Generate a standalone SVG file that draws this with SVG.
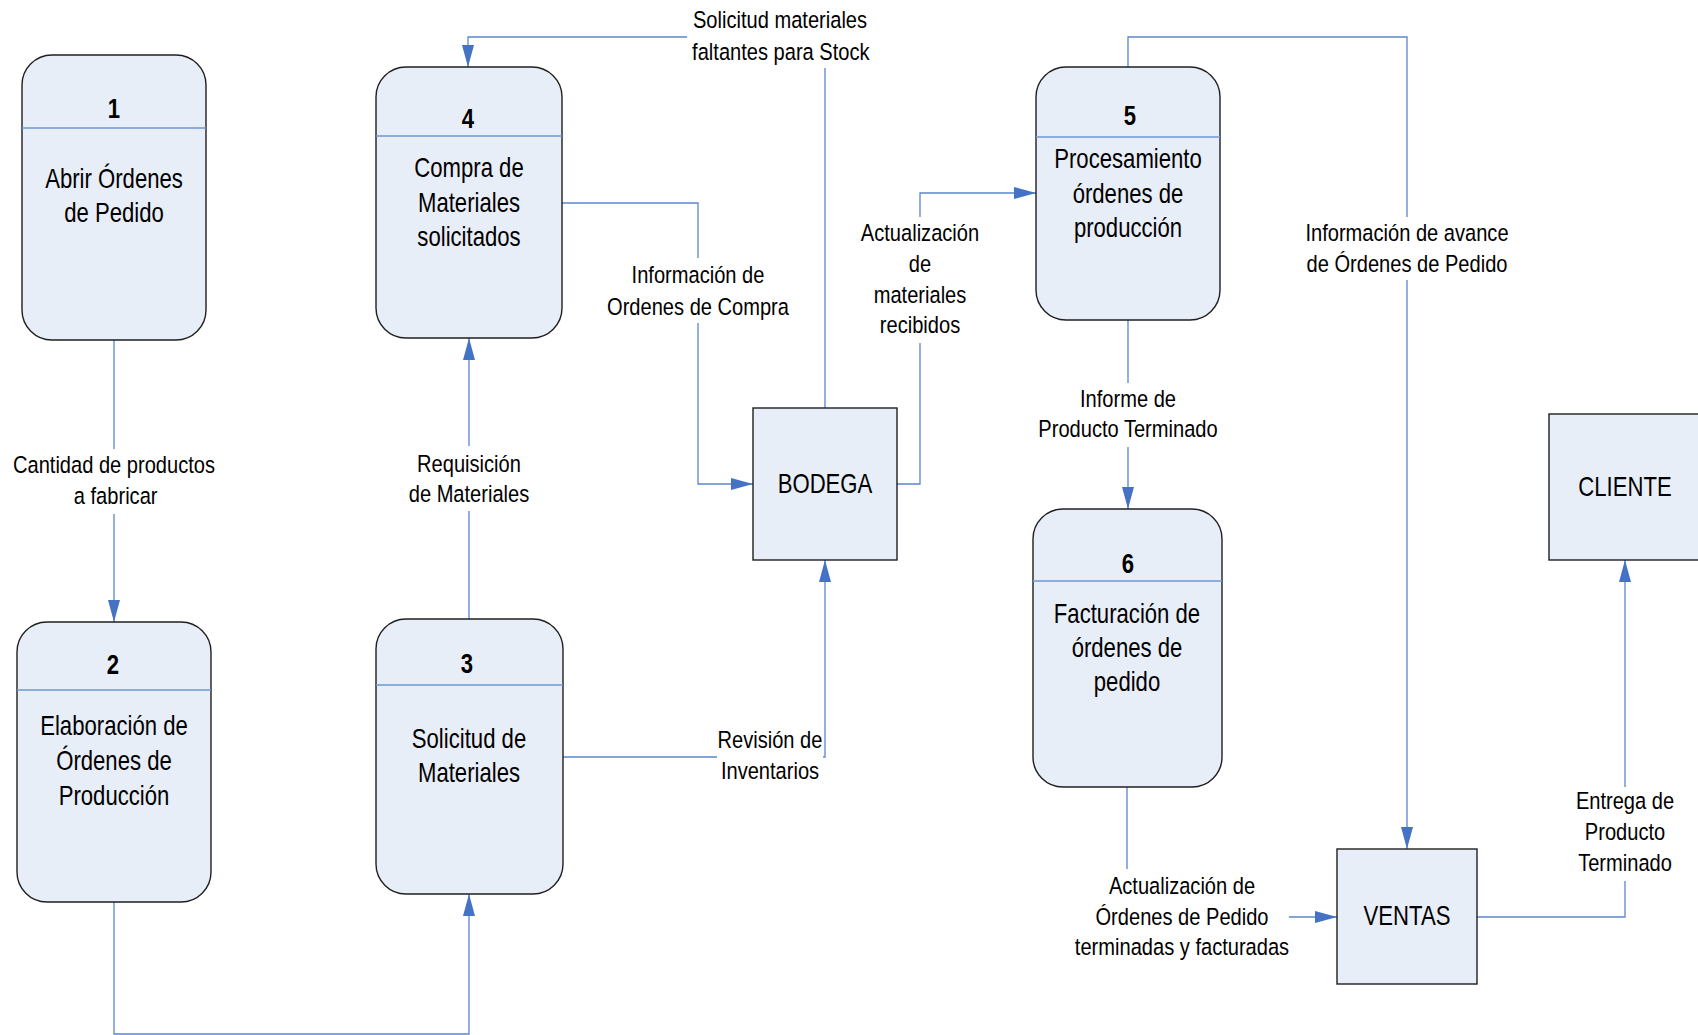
<svg xmlns="http://www.w3.org/2000/svg" width="1698" height="1035" viewBox="0 0 1698 1035">
<defs>
<style>
.node{fill:#E8EEF8;stroke:#1f1f1f;stroke-width:1.4}
.div{stroke:#6E97D6;stroke-width:1.4;fill:none}
.conn{fill:none;stroke:#5B86CF;stroke-width:1.3}
text{font-family:"Liberation Sans",Arial,sans-serif;fill:#000;text-anchor:middle}
.num{font-size:27px;font-weight:bold}
.nt{font-size:27px}
.lb{font-size:24.5px}
</style>
<marker id="arr" markerUnits="userSpaceOnUse" markerWidth="22" markerHeight="12" refX="22" refY="6" orient="auto" viewBox="0 0 22 12">
<path d="M0,0 L22,6 L0,12 z" fill="#4472C4"/>
</marker>
</defs>
<rect width="1698" height="1035" fill="#fff"/>

<g id="connectors">
<path class="conn" d="M114 340 V449 M114 514 V622" marker-end="url(#arr)"/>
<path class="conn" d="M114 902 V1034 H469 V894" marker-end="url(#arr)"/>
<path class="conn" d="M469 619 V511 M469 446 V338" marker-end="url(#arr)"/>
<path class="conn" d="M562 203 H698 V258 M698 323 V484 H753" marker-end="url(#arr)"/>
<path class="conn" d="M825 408 V68 M687 37 H468 V67" marker-end="url(#arr)"/>
<path class="conn" d="M563 757 H717 M823 757 H825 V560" marker-end="url(#arr)"/>
<path class="conn" d="M897 484 H920 V343 M920 217 V193 H1036" marker-end="url(#arr)"/>
<path class="conn" d="M1128 67 V37 H1407 V217 M1407 280 V849" marker-end="url(#arr)"/>
<path class="conn" d="M1128 320 V383 M1128 447 V509" marker-end="url(#arr)"/>
<path class="conn" d="M1127 787 V869 M1289 917 H1337" marker-end="url(#arr)"/>
<path class="conn" d="M1477 917 H1625 V881 M1625 787 V560" marker-end="url(#arr)"/>

<text class="lb" transform="matrix(0.82 0 0 1 114 0)"><tspan x="0" y="473">Cantidad de productos</tspan><tspan x="2" y="504">a fabricar</tspan></text>
<text class="lb" transform="matrix(0.82 0 0 1 469 0)"><tspan x="0" y="472">Requisición</tspan><tspan x="0" y="502">de Materiales</tspan></text>
<text class="lb" transform="matrix(0.82 0 0 1 698 0)"><tspan x="0" y="283">Información de</tspan><tspan x="0" y="315">Ordenes de Compra</tspan></text>
<text class="lb" transform="matrix(0.82 0 0 1 780 0)"><tspan x="0" y="28">Solicitud materiales</tspan><tspan x="1" y="60">faltantes para Stock</tspan></text>
<text class="lb" transform="matrix(0.82 0 0 1 770 0)"><tspan x="0" y="748">Revisión de</tspan><tspan x="0" y="779">Inventarios</tspan></text>
<text class="lb" transform="matrix(0.82 0 0 1 920 0)"><tspan x="0" y="241">Actualización</tspan><tspan x="0" y="272">de</tspan><tspan x="0" y="303">materiales</tspan><tspan x="0" y="333">recibidos</tspan></text>
<text class="lb" transform="matrix(0.82 0 0 1 1407 0)"><tspan x="0" y="241">Información de avance</tspan><tspan x="0" y="272">de Órdenes de Pedido</tspan></text>
<text class="lb" transform="matrix(0.82 0 0 1 1128 0)"><tspan x="0" y="407">Informe de</tspan><tspan x="0" y="437">Producto Terminado</tspan></text>
<text class="lb" transform="matrix(0.82 0 0 1 1182 0)"><tspan x="0" y="894">Actualización de</tspan><tspan x="0" y="925">Órdenes de Pedido</tspan><tspan x="0" y="955">terminadas y facturadas</tspan></text>
<text class="lb" transform="matrix(0.82 0 0 1 1625 0)"><tspan x="0" y="809">Entrega de</tspan><tspan x="0" y="840">Producto</tspan><tspan x="0" y="871">Terminado</tspan></text>
</g>

<g id="node1">
<rect class="node" x="22" y="55" width="184" height="285" rx="30" ry="30"/>
<line class="div" x1="22" y1="128" x2="206" y2="128"/>
<text class="num" transform="matrix(0.82 0 0 1 114 0)" x="0" y="118">1</text>
<text class="nt" transform="matrix(0.82 0 0 1 114 0)"><tspan x="0" y="188">Abrir Órdenes</tspan><tspan x="0" y="222">de Pedido</tspan></text>
</g>

<g id="node2">
<rect class="node" x="17" y="622" width="194" height="280" rx="30" ry="30"/>
<line class="div" x1="17" y1="690" x2="211" y2="690"/>
<text class="num" transform="matrix(0.82 0 0 1 113 0)" x="0" y="674">2</text>
<text class="nt" transform="matrix(0.82 0 0 1 114 0)"><tspan x="0" y="735">Elaboración de</tspan><tspan x="0" y="770">Órdenes de</tspan><tspan x="0" y="805">Producción</tspan></text>
</g>

<g id="node3">
<rect class="node" x="376" y="619" width="187" height="275" rx="30" ry="30"/>
<line class="div" x1="376" y1="685" x2="563" y2="685"/>
<text class="num" transform="matrix(0.82 0 0 1 467 0)" x="0" y="673">3</text>
<text class="nt" transform="matrix(0.82 0 0 1 469 0)"><tspan x="0" y="748">Solicitud de</tspan><tspan x="0" y="782">Materiales</tspan></text>
</g>

<g id="node4">
<rect class="node" x="376" y="67" width="186" height="271" rx="30" ry="30"/>
<line class="div" x1="376" y1="136" x2="562" y2="136"/>
<text class="num" transform="matrix(0.82 0 0 1 468 0)" x="0" y="128">4</text>
<text class="nt" transform="matrix(0.82 0 0 1 469 0)"><tspan x="0" y="177">Compra de</tspan><tspan x="0" y="212">Materiales</tspan><tspan x="0" y="246">solicitados</tspan></text>
</g>

<g id="node5">
<rect class="node" x="1036" y="67" width="184" height="253" rx="30" ry="30"/>
<line class="div" x1="1036" y1="137" x2="1220" y2="137"/>
<text class="num" transform="matrix(0.82 0 0 1 1130 0)" x="0" y="125">5</text>
<text class="nt" transform="matrix(0.82 0 0 1 1128 0)"><tspan x="0" y="168">Procesamiento</tspan><tspan x="0" y="203">órdenes de</tspan><tspan x="0" y="237">producción</tspan></text>
</g>

<g id="node6">
<rect class="node" x="1033" y="509" width="189" height="278" rx="30" ry="30"/>
<line class="div" x1="1033" y1="581" x2="1222" y2="581"/>
<text class="num" transform="matrix(0.82 0 0 1 1128 0)" x="0" y="573">6</text>
<text class="nt" transform="matrix(0.82 0 0 1 1127 0)"><tspan x="0" y="623">Facturación de</tspan><tspan x="0" y="657">órdenes de</tspan><tspan x="0" y="691">pedido</tspan></text>
</g>

<g id="bodega">
<rect class="node" x="753" y="408" width="144" height="152"/>
<text class="nt" transform="matrix(0.82 0 0 1 825 0)" x="0" y="493">BODEGA</text>
</g>

<g id="cliente">
<rect class="node" x="1549" y="414" width="154" height="146"/>
<text class="nt" transform="matrix(0.82 0 0 1 1625 0)" x="0" y="496">CLIENTE</text>
</g>

<g id="ventas">
<rect class="node" x="1337" y="849" width="140" height="135"/>
<text class="nt" transform="matrix(0.82 0 0 1 1407 0)" x="0" y="925">VENTAS</text>
</g>
</svg>
